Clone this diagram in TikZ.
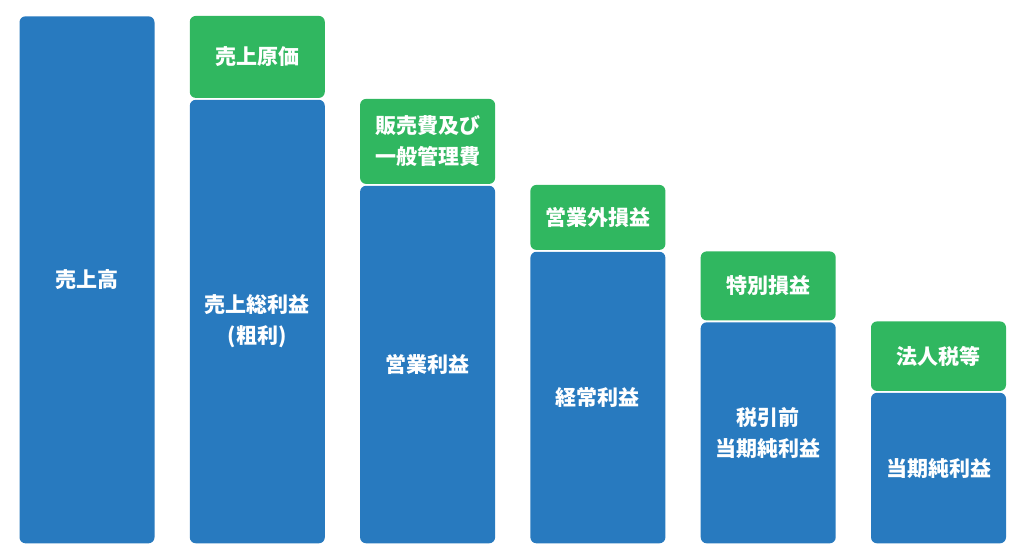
\documentclass[tikz,border=0pt]{standalone}
\usepackage{fontspec}
\newfontfamily\jpfont{Noto Sans CJK JP}
\usetikzlibrary{positioning}
\definecolor{profitblue}{RGB}{40,122,191}
\definecolor{costgreen}{RGB}{48,183,96}

\tikzset{
  bar/.style={rectangle,rounded corners=6pt,inner sep=0pt,text=white,
    font=\jpfont\bfseries\fontsize{21}{31}\selectfont,align=center,
    minimum width=135pt},
  profit/.style={bar,fill=profitblue,anchor=south},
  cost/.style={bar,fill=costgreen,anchor=south}
}

\begin{document}
\begin{tikzpicture}[x=1pt,y=-1pt]
  \useasboundingbox (0,0) rectangle (1024,557);
  \node[profit,minimum height=527pt] (sales) at (87,543.5) {売上高};
  \node[profit,minimum height=443.5pt] (gross) at (257.3,543.5) {売上総利益\\(粗利)};
  \node[profit,minimum height=357.5pt] (oper) at (427.6,543.5) {営業利益};
  \node[profit,minimum height=291.5pt] (ord) at (597.9,543.5) {経常利益};
  \node[profit,minimum height=221pt] (pretax) at (768.2,543.5) {税引前\\当期純利益};
  \node[profit,minimum height=150.5pt] (net) at (938.5,543.5) {当期純利益};

  \node[cost,minimum height=82pt] (cogs) [above=1.5pt of gross] {売上原価};
  \node[cost,minimum height=85pt] (sga) [above=1.5pt of oper] {販売費及び\\一般管理費};
  \node[cost,minimum height=65pt] (nonop) [above=1.5pt of ord] {営業外損益};
  \node[cost,minimum height=69pt] (extra) [above=1.5pt of pretax] {特別損益};
  \node[cost,minimum height=69.5pt] (tax) [above=1.5pt of net] {法人税等};
\end{tikzpicture}
\end{document}
